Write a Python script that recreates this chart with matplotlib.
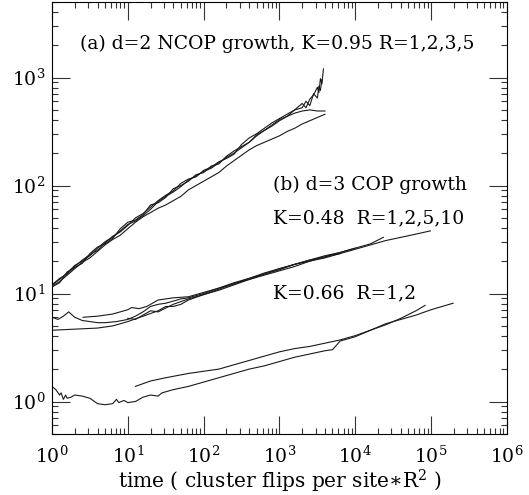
import numpy as np
import matplotlib
matplotlib.use('Agg')
import matplotlib.pyplot as plt

# all values below are log10 exponents
# (a) d=2 NCOP growth, K=0.95, R=1,2,3,5
a1_t = [0.0, 0.1, 0.2, 0.3, 0.4, 0.5, 0.6, 0.7, 0.8, 0.9, 1.0, 1.1, 1.2, 1.3, 1.4, 1.5, 1.6,
        1.7, 1.8, 1.9, 2.0, 2.1, 2.2, 2.3, 2.4, 2.5, 2.6, 2.7, 2.8, 2.9, 3.0, 3.1, 3.2, 3.3,
        3.35, 3.4, 3.45, 3.5, 3.52, 3.54, 3.56, 3.58]
a1_y = [1.08, 1.14, 1.18, 1.25, 1.31, 1.36, 1.40, 1.47, 1.53, 1.57, 1.63, 1.70, 1.74, 1.80,
        1.86, 1.91, 1.95, 2.02, 2.06, 2.08, 2.14, 2.17, 2.22, 2.25, 2.29, 2.38, 2.44, 2.48,
        2.53, 2.58, 2.62, 2.66, 2.70, 2.76, 2.72, 2.80, 2.84, 2.91, 2.86, 2.99, 2.94, 3.08]

a2_t = [0.0, 0.1, 0.2, 0.3, 0.4, 0.5, 0.6, 0.7, 0.8, 0.9, 1.0, 1.1, 1.2, 1.3, 1.4, 1.5, 1.6,
        1.7, 1.8, 1.9, 2.0, 2.1, 2.2, 2.3, 2.4, 2.5, 2.6, 2.7, 2.8, 2.9, 3.0, 3.1, 3.2, 3.3,
        3.35, 3.4, 3.45, 3.5, 3.52, 3.54, 3.56]
a2_y = [1.06, 1.10, 1.20, 1.24, 1.28, 1.37, 1.43, 1.46, 1.51, 1.60, 1.66, 1.68, 1.73, 1.82,
        1.84, 1.89, 1.97, 2.00, 2.04, 2.10, 2.12, 2.18, 2.20, 2.27, 2.32, 2.36, 2.40, 2.47,
        2.51, 2.56, 2.61, 2.64, 2.70, 2.72, 2.78, 2.74, 2.85, 2.81, 2.92, 2.88, 2.98]

a34_t = [0.0, 0.1, 0.2, 0.3, 0.4, 0.5, 0.6, 0.7, 0.8, 0.9, 1.0, 1.1, 1.2, 1.3, 1.4, 1.5, 1.6,
         1.7, 1.8, 1.9, 2.0, 2.1, 2.2, 2.3, 2.4, 2.5, 2.6, 2.7, 2.8, 2.9, 3.0, 3.1, 3.2, 3.3,
         3.4, 3.5, 3.6]
a3_y = [1.08, 1.13, 1.19, 1.26, 1.30, 1.35, 1.42, 1.48, 1.52, 1.58, 1.64, 1.67, 1.72, 1.78,
        1.85, 1.90, 1.94, 1.99, 2.05, 2.09, 2.13, 2.16, 2.21, 2.26, 2.30, 2.35, 2.40, 2.46,
        2.51, 2.55, 2.60, 2.64, 2.67, 2.69, 2.70, 2.69, 2.69]
a4_y = [1.07, 1.11, 1.17, 1.23, 1.29, 1.33, 1.39, 1.45, 1.50, 1.54, 1.60, 1.66, 1.71, 1.75,
        1.79, 1.82, 1.86, 1.90, 1.96, 2.00, 2.04, 2.08, 2.12, 2.18, 2.23, 2.28, 2.33, 2.37,
        2.40, 2.43, 2.46, 2.50, 2.53, 2.57, 2.60, 2.63, 2.66]

# (b) d=3 COP growth, K=0.48, R=1,2,5,10
b1_t = [0.0, 0.08, 0.15, 0.22, 0.3, 0.4, 0.5, 0.6, 0.7, 0.85, 1.0, 1.1, 1.2, 1.3, 1.4, 1.5,
        1.6, 1.7, 1.8, 1.9, 2.0, 2.2, 2.4, 2.6, 2.8, 3.0, 3.2, 3.4, 3.6, 3.8, 4.0]
b1_y = [0.78, 0.76, 0.79, 0.83, 0.78, 0.75, 0.74, 0.73, 0.73, 0.74, 0.76, 0.79, 0.83, 0.88,
        0.90, 0.91, 0.93, 0.95, 0.96, 0.98, 1.00, 1.05, 1.09, 1.14, 1.19, 1.23, 1.27, 1.31,
        1.35, 1.38, 1.42]
b2_t = [0.0, 0.3, 0.6, 0.8, 1.0, 1.2, 1.4, 1.5, 1.6, 1.7, 1.8, 2.0, 2.2, 2.4, 2.6, 2.8, 3.0,
        3.2, 3.4, 3.6, 3.8, 4.0, 4.2, 4.37]
b2_y = [0.66, 0.67, 0.68, 0.70, 0.74, 0.79, 0.84, 0.88, 0.88, 0.90, 0.94, 0.99, 1.04, 1.09,
        1.13, 1.18, 1.22, 1.27, 1.31, 1.34, 1.38, 1.42, 1.46, 1.52]
b3_t = [0.41, 0.6, 0.8, 1.0, 1.05, 1.15, 1.25, 1.4, 1.6, 1.8, 2.0, 2.2, 2.4, 2.6, 2.8, 3.0,
        3.2, 3.4, 3.6, 3.8]
b3_y = [0.78, 0.79, 0.81, 0.85, 0.87, 0.86, 0.88, 0.94, 0.96, 0.97, 1.01, 1.05, 1.10, 1.14,
        1.18, 1.23, 1.27, 1.30, 1.34, 1.37]
b4_t = [1.0, 1.1, 1.2, 1.3, 1.4, 1.6, 1.8, 2.0, 2.2, 2.4, 2.6, 2.8, 3.0, 3.2, 3.4, 3.6, 3.8,
        4.0, 4.2, 4.4, 4.6, 4.8, 4.99]
b4_y = [0.77, 0.76, 0.80, 0.84, 0.83, 0.90, 0.95, 0.99, 1.03, 1.08, 1.13, 1.17, 1.21, 1.25,
        1.30, 1.33, 1.37, 1.41, 1.45, 1.49, 1.52, 1.55, 1.58]

# K=0.66, R=1,2
c1_t = [0.0, 0.05, 0.1, 0.12, 0.15, 0.18, 0.2, 0.25, 0.3, 0.4, 0.5, 0.6, 0.7, 0.8, 0.85,
        0.88, 0.95, 1.0, 1.1, 1.2, 1.3, 1.4, 1.45, 1.6, 1.8, 2.0, 2.2, 2.4, 2.6, 2.8, 3.0,
        3.2, 3.4, 3.6, 3.7, 3.75, 3.8, 4.0, 4.2, 4.4, 4.6, 4.8, 5.0, 5.29]
c1_y = [0.14, 0.11, 0.06, 0.08, 0.02, 0.06, 0.03, 0.04, 0.06, 0.05, 0.03, -0.02, -0.03,
        -0.02, 0.02, -0.01, 0.01, -0.01, 0.0, 0.04, 0.06, 0.05, 0.08, 0.11, 0.14, 0.18, 0.22,
        0.26, 0.30, 0.33, 0.37, 0.41, 0.44, 0.47, 0.48, 0.52, 0.56, 0.60, 0.66, 0.72, 0.76,
        0.80, 0.85, 0.91]
c2_t = [1.1, 1.3, 1.5, 1.8, 2.0, 2.2, 2.4, 2.6, 2.8, 3.0, 3.2, 3.4, 3.6, 3.8, 4.0, 4.2, 4.4,
        4.6, 4.8, 4.92]
c2_y = [0.14, 0.19, 0.22, 0.26, 0.28, 0.30, 0.34, 0.38, 0.42, 0.46, 0.49, 0.51, 0.54, 0.57,
        0.61, 0.66, 0.71, 0.77, 0.84, 0.89]

curves = [(a1_t, a1_y), (a2_t, a2_y), (a34_t, a3_y), (a34_t, a4_y),
          (b1_t, b1_y), (b2_t, b2_y), (b3_t, b3_y), (b4_t, b4_y),
          (c1_t, c1_y), (c2_t, c2_y)]

plt.rcParams['font.family'] = ['DejaVu Serif']
plt.rcParams['mathtext.fontset'] = 'dejavuserif'

fig = plt.figure(figsize=(5.29, 4.95), dpi=100)
ax = fig.add_axes([0.0983, 0.1232, 0.860, 0.8727])

for t, y in curves:
    ax.loglog(np.power(10.0, t), np.power(10.0, y), color='#1a1a1a', lw=0.8)

ax.set_xlim(1, 1e6)
ax.set_ylim(0.5, 5000)

ax.tick_params(which='both', direction='in', top=True, right=True, width=0.8, color='#333333')
ax.tick_params(which='major', length=13, labelsize=13.5)
ax.tick_params(axis='x', which='major', pad=8)
ax.tick_params(axis='y', which='major', pad=5)
ax.tick_params(which='minor', length=4.5)
for s in ax.spines.values():
    s.set_linewidth(0.8)

ax.set_xlabel(r'time ( cluster flips per site$\ast$R$^2$ )', fontsize=14.5, labelpad=1)

txt = dict(transform=ax.transAxes, fontsize=13.5, va='center', ha='left')
ax.text(0.062, 0.903, '(a) d=2 NCOP growth, K=0.95 R=1,2,3,5', **txt)
ax.text(0.486, 0.576, '(b) d=3 COP growth', **txt)
ax.text(0.486, 0.50, 'K=0.48  R=1,2,5,10', **txt)
ax.text(0.486, 0.326, 'K=0.66  R=1,2', **txt)

fig.savefig('out.png', dpi=100)
